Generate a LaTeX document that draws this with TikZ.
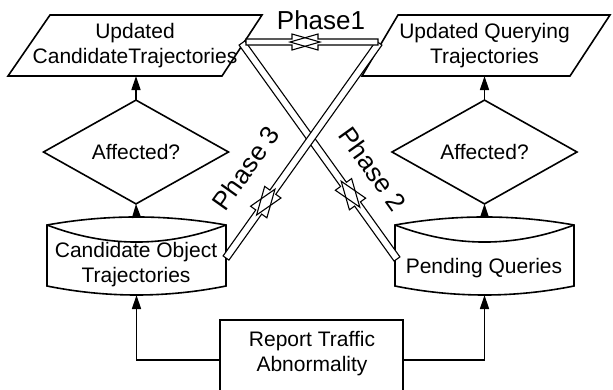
\documentclass[tikz,border=0pt]{standalone}
\usepackage{fontspec}
\setmainfont{Liberation Sans}
\usetikzlibrary{arrows.meta,calc,shapes.geometric}
% #1 options, #2 start, #3 tip, #4 half shaft width, #5 half head width
\newcommand\phasearrow[5]{%
  \path ($(#3)!28pt!(#2)$) coordinate (hb);
  \path[#1] ($(#2)!#4!90:(#3)$) -- ($(hb)!#4!90:(#3)$) -- ($(hb)!#5!90:(#3)$) -- (#3)
    -- ($(hb)!#5!-90:(#3)$) -- ($(hb)!#4!-90:(#3)$) -- ($(#2)!#4!-90:(#3)$) -- cycle;}
\begin{document}
\begin{tikzpicture}[x=1pt,y=-1pt,
  shapeline/.style={line width=1.6pt, line join=miter},
  conn/.style={line width=1.4pt,-{Triangle[length=14pt,width=9pt]}},
  lbl/.style={font=\fontsize{21}{25}\selectfont, align=center, inner sep=0},
  phaselbl/.style={font=\fontsize{26}{30}\selectfont, inner sep=0},
  bandfill/.style={fill=white},
  banddraw/.style={draw, line width=1.1pt, line join=miter},
  ghost/.style={inner sep=0, outer sep=0},
]
\useasboundingbox (0,0) rectangle (613,389);
\clip (0,0) rectangle (613,389);

% parallelograms
\draw[shapeline] (8,76) -- (222,76) -- (262,15) -- (50,15) -- cycle;
\draw[shapeline] (362,76) -- (570,76) -- (610,15) -- (398,15) -- cycle;
\node[ghost, minimum width=150pt, minimum height=61pt] (p1) at (136,45.5) {};
\node[ghost, minimum width=150pt, minimum height=61pt] (p2) at (484.5,45.5) {};
\node[lbl] (p1t) at (135,46) {Updated\\CandidateTrajectories};
\node[lbl] (p2t) at (484.5,46) {Updated Querying\\Trajectories};

% diamonds
\node[draw, shapeline, diamond, minimum width=185pt, minimum height=80pt, inner sep=0, outer sep=0,
  font=\fontsize{21}{25}\selectfont] (d1) at (136,152) {Affected?};
\node[draw, shapeline, diamond, minimum width=185pt, minimum height=80pt, inner sep=0, outer sep=0,
  font=\fontsize{21}{25}\selectfont] (d2) at (484.5,152) {Affected?};

% cylinders
\draw[shapeline] (47,225) .. controls (106.7,214.3) and (166.3,214.3) .. (226,225) -- (226,286)
  .. controls (166.3,298) and (106.7,298) .. (47,286) -- cycle;
\draw[shapeline] (47,225) .. controls (106.7,247.7) and (166.3,247.7) .. (226,225);
\draw[shapeline] (395,225) .. controls (454.7,214.3) and (514.3,214.3) .. (574,225) -- (574,286)
  .. controls (514.3,298) and (454.7,298) .. (395,286) -- cycle;
\draw[shapeline] (395,225) .. controls (454.7,247.7) and (514.3,247.7) .. (574,225);
\node[ghost, minimum width=179pt, minimum height=78pt] (c1) at (136.5,256) {};
\node[ghost, minimum width=179pt, minimum height=78pt] (c2) at (484.5,256) {};
\node[lbl] (c1t) at (136,265) {Candidate Object\\Trajectories};
\node[lbl] (c2t) at (484,268) {Pending Queries};

% report box
\node[draw, shapeline, minimum width=183pt, minimum height=80pt, inner sep=0, outer sep=0] (r) at (311.5,360) {};
\node[lbl] (rt) at (312,353.5) {Report Traffic\\Abnormality};

% connectors
\draw[conn] (d1.north) -- (p1.south);
\draw[conn] (d2.north) -- (p2.south);
\draw[conn] (c1.north) -- (d1.south);
\draw[conn] (c2.north) -- (d2.south);
\draw[conn] (r.west) -| (c1.south);
\draw[conn] (r.east) -| (c2.south);

% phase bands
\coordinate (ph1a) at (246,42);
\coordinate (ph1b) at (378,42);
\coordinate (ph1at) at (320,42);
\coordinate (ph1bt) at (290,42);
\coordinate (ph2a) at (242,43);
\coordinate (ph2b) at (397,259);
\coordinate (ph2at) at ($(ph2a)!0.76!(ph2b)$);
\coordinate (ph2bt) at ($(ph2a)!0.64!(ph2b)$);
\coordinate (ph3a) at (226,258);
\coordinate (ph3b) at (379,43);
\coordinate (ph3at) at ($(ph3a)!0.32!(ph3b)$);
\coordinate (ph3bt) at ($(ph3a)!0.20!(ph3b)$);

\phasearrow{bandfill}{ph2a}{ph2at}{3.6pt}{10pt}
\phasearrow{bandfill}{ph2b}{ph2bt}{3.6pt}{10pt}
\phasearrow{banddraw}{ph2a}{ph2at}{3.6pt}{10pt}
\phasearrow{banddraw}{ph2b}{ph2bt}{3.6pt}{10pt}
\phasearrow{bandfill}{ph3a}{ph3at}{3.6pt}{10pt}
\phasearrow{bandfill}{ph3b}{ph3bt}{3.6pt}{10pt}
\phasearrow{banddraw}{ph3a}{ph3at}{3.6pt}{10pt}
\phasearrow{banddraw}{ph3b}{ph3bt}{3.6pt}{10pt}
\phasearrow{bandfill}{ph1a}{ph1at}{3pt}{8pt}
\phasearrow{bandfill}{ph1b}{ph1bt}{3pt}{8pt}
\phasearrow{banddraw}{ph1a}{ph1at}{3pt}{8pt}
\phasearrow{banddraw}{ph1b}{ph1bt}{3pt}{8pt}

% phase labels
\node[phaselbl] (l1) at (321,20) {Phase1};
\node[phaselbl, rotate=54.6] (l3) at (246,168) {Phase 3};
\node[phaselbl, rotate=-54.3] (l2) at (373,169) {Phase 2};
\end{tikzpicture}
\end{document}
